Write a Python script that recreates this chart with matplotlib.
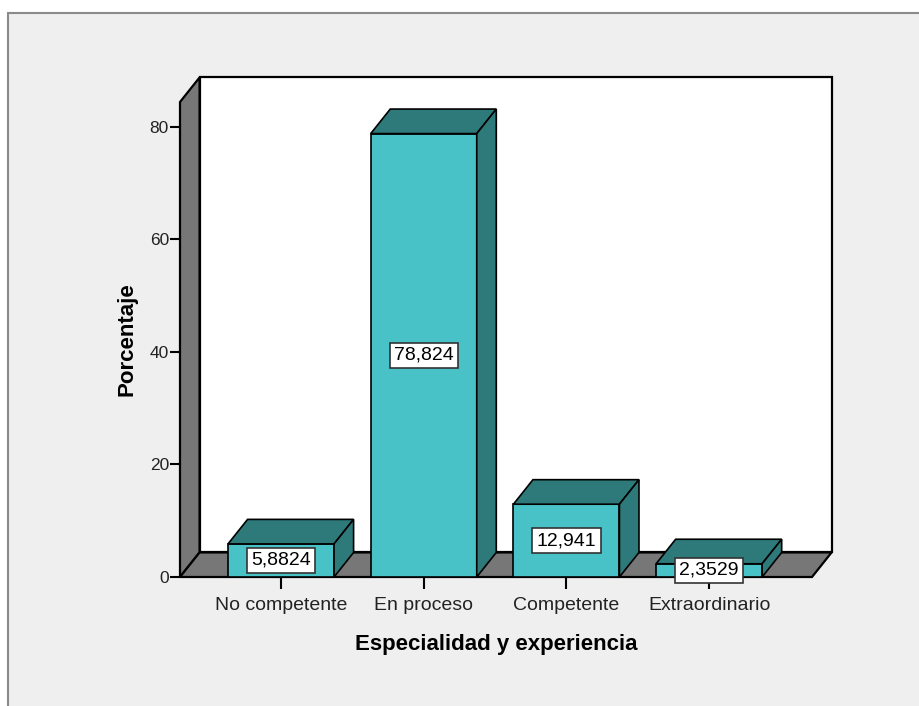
import matplotlib.pyplot as plt
from matplotlib.patches import Polygon, Rectangle

categories = ["No competente", "En proceso", "Competente", "Extraordinario"]
values = [5.8824, 78.824, 12.941, 2.3529]
yticks = [0, 20, 40, 60, 80]

plt.rcParams['font.family'] = ['Liberation Sans', 'DejaVu Sans']

front_col = "#49c2c7"
dark_col = "#2e7a7b"
wall_col = "#777777"
bg_col = "#efefef"

# geometry of the fake 3d box (data units)
x0, x1 = -0.708, 3.721
ytop = 84.44
dx, dy = 0.137, 4.36
width = 0.743

fig = plt.figure(figsize=(9.19, 7.06), dpi=100)
fig.patch.set_facecolor("white")
fig.patches.append(Rectangle((8 / 919, -0.05), 1.1, (706 - 13) / 706 + 0.05,
                             transform=fig.transFigure, facecolor=bg_col,
                             edgecolor="#8a8a8a", linewidth=1.5, zorder=-10))

ax = fig.add_axes([180 / 919, (706 - 577) / 706, 632 / 919, 475 / 706])
ax.set_facecolor("none")
ax.set_xlim(x0, x1)
ax.set_ylim(0, ytop)
for s in ax.spines.values():
    s.set_visible(False)

# walls
ax.add_patch(Polygon([(x0 + dx, dy), (x1 + dx, dy), (x1 + dx, ytop + dy), (x0 + dx, ytop + dy)],
                     closed=True, facecolor="white", edgecolor="black", lw=1.6, clip_on=False, zorder=1))
ax.add_patch(Polygon([(x0, 0), (x0 + dx, dy), (x0 + dx, ytop + dy), (x0, ytop)],
                     closed=True, facecolor=wall_col, edgecolor="black", lw=1.6, clip_on=False, zorder=1))
ax.add_patch(Polygon([(x0, 0), (x1, 0), (x1 + dx, dy), (x0 + dx, dy)],
                     closed=True, facecolor=wall_col, edgecolor="black", lw=1.6, clip_on=False, zorder=1))

# bars
xs = list(range(len(categories)))
ax.bar(xs, values, width=width, color=front_col, edgecolor="black", lw=1.2, zorder=3)
for x, v in zip(xs, values):
    l, r = x - width / 2, x + width / 2
    ax.add_patch(Polygon([(l, v), (r, v), (r + dx, v + dy), (l + dx, v + dy)], closed=True,
                         facecolor=dark_col, edgecolor="black", lw=1.2, clip_on=False, zorder=3))
    ax.add_patch(Polygon([(r, 0), (r + dx, dy), (r + dx, v + dy), (r, v)], closed=True,
                         facecolor=dark_col, edgecolor="black", lw=1.2, clip_on=False, zorder=3))
    ax.text(x, v / 2, f"{v:.5g}".replace(".", ","), ha="center", va="center", fontsize=14,
            zorder=5, bbox=dict(boxstyle="square,pad=0.22", facecolor="white", edgecolor="#333333", lw=1.2))

ax.set_xticks(xs)
ax.set_xticklabels(categories, fontsize=14, color="#222222")
ax.set_yticks(yticks)
ax.set_yticklabels([str(t) for t in yticks], fontsize=12.5, color="#222222")
ax.tick_params(axis="x", length=8.5, width=1.5, pad=6)
ax.tick_params(axis="y", length=7, width=1.5, pad=1)

ax.set_xlabel("Especialidad y experiencia", fontsize=16, fontweight="bold", labelpad=14)
ax.set_ylabel("Porcentaje", fontsize=16, fontweight="bold", labelpad=9)

fig.savefig("out.png", dpi=100)
